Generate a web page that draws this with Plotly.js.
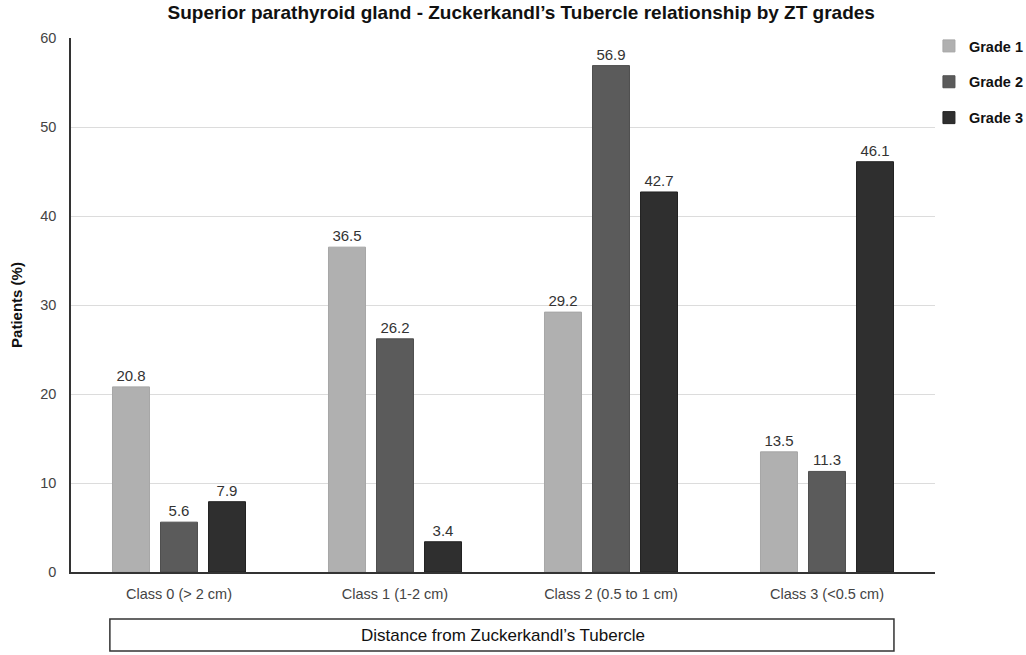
<!DOCTYPE html>
<html>
<head>
<meta charset="utf-8">
<script src="https://cdn.plot.ly/plotly-3.0.1.min.js"></script>
<style>
  html, body { margin: 0; padding: 0; background: #fff; }
  #chart { width: 1026px; height: 655px; }
</style>
</head>
<body>
<div id="chart"></div>
<script>
// ZT grade distribution per distance class
const categories = ["Class 0 (> 2 cm)", "Class 1 (1-2 cm)", "Class 2 (0.5 to 1 cm)", "Class 3 (<0.5 cm)"];
const grade1 = [20.8, 36.5, 29.2, 13.5];
const grade2 = [5.6, 26.2, 56.9, 11.3];
const grade3 = [7.9, 3.4, 42.7, 46.1];
const yTicks = [0, 10, 20, 30, 40, 50, 60];

const fontFam = "Liberation Sans, Arial, sans-serif";

function barra(nome, valores, cor, borda) {
    return {
        type: "bar",
        name: nome,
        legendgroup: nome,
        x: categories,
        y: valores,
        marker: { color: cor, line: { color: borda, width: 1 } },
        text: valores.map((v) => v.toFixed(1)),
        textposition: "outside",
        textfont: { family: fontFam, size: 15, color: "#333" },
        cliponaxis: false,
        hoverinfo: "x+y+name",
    };
}

const traces = [
    barra("Grade 1", grade1, "#b0b0b0", "#a6a6a6"),
    barra("Grade 2", grade2, "#5b5b5b", "#4f4f4f"),
    barra("Grade 3", grade3, "#2f2f2f", "#222222"),
];

const layout = {
    width: 1026,
    height: 655,
    paper_bgcolor: "#fff",
    plot_bgcolor: "#fff",
    font: { family: fontFam, color: "#333" },
    title: {
        text: "<b>Superior parathyroid gland - Zuckerkandl’s Tubercle relationship by ZT grades</b>",
        font: { family: fontFam, size: 19, color: "#111" },
        x: 0.508,
        xanchor: "center",
        y: 0.992,
        yanchor: "top",
    },
    barmode: "group",
    bargap: 0.333,
    bargroupgap: 0.23,
    margin: { l: 71, r: 91, t: 38, b: 83, autoexpand: false },
    xaxis: {
        tickfont: { family: fontFam, size: 14.5, color: "#444" },
        showline: true,
        linecolor: "#333",
        linewidth: 1.5,
        ticks: "",
        showgrid: false,
        ticklabelstandoff: 8,
    },
    yaxis: {
        range: [0, 60],
        tickvals: yTicks,
        tickfont: { family: fontFam, size: 14.5, color: "#444" },
        showline: true,
        linecolor: "#333",
        linewidth: 1.5,
        gridcolor: "#dcdcdc",
        zeroline: false,
        ticks: "",
        ticklabelstandoff: 10,
        title: {
            text: "<b>Patients (%)</b>",
            font: { family: fontFam, size: 15, color: "#111" },
            standoff: 14,
        },
    },
    legend: {
        x: 0.993,
        xanchor: "left",
        y: 1.015,
        yanchor: "top",
        bgcolor: "rgba(0,0,0,0)",
        font: { family: fontFam, size: 14.5, color: "#111", weight: "bold" },
        tracegroupgap: 14,
        itemwidth: 30,
    },
    shapes: [
        {
            type: "rect",
            xref: "paper",
            yref: "paper",
            x0: 0.045,
            x1: 0.9525,
            y0: -0.148,
            y1: -0.088,
            line: { color: "#333", width: 1.5 },
            fillcolor: "rgba(0,0,0,0)",
        },
    ],
    annotations: [
        {
            text: "Distance from Zuckerkandl’s Tubercle",
            xref: "paper",
            yref: "paper",
            x: 0.5,
            y: -0.118,
            xanchor: "center",
            yanchor: "middle",
            showarrow: false,
            font: { family: fontFam, size: 17, color: "#111" },
        },
    ],
};

const config = { responsive: false, displayModeBar: false };

Plotly.newPlot(document.getElementById("chart"), traces, layout, config);
</script>
</body>
</html>
